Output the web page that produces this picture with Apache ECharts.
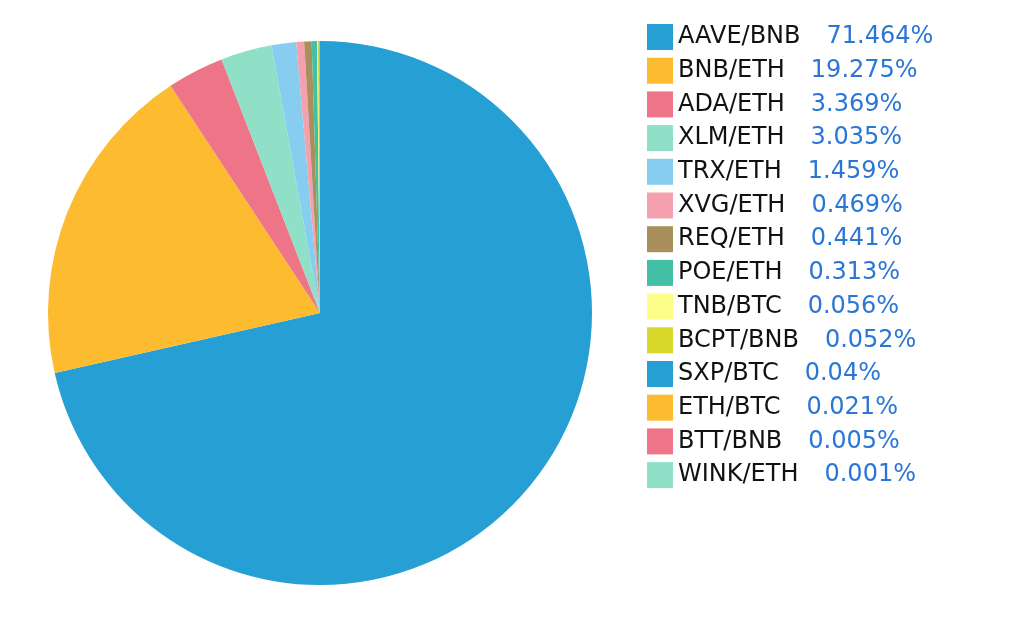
<!DOCTYPE html>
<html>
<head>
<meta charset="utf-8">
<script src="https://cdn.jsdelivr.net/npm/echarts@6/dist/echarts.min.js"></script>
<style>html,body{margin:0;background:#fff}#c{width:1024px;height:632px}</style>
</head>
<body>
<div id="c"></div>
<script>
const names = ['AAVE/BNB', 'BNB/ETH', 'ADA/ETH', 'XLM/ETH', 'TRX/ETH', 'XVG/ETH', 'REQ/ETH', 'POE/ETH', 'TNB/BTC', 'BCPT/BNB', 'SXP/BTC', 'ETH/BTC', 'BTT/BNB', 'WINK/ETH']
const values = [71.464, 19.275, 3.369, 3.035, 1.459, 0.469, 0.441, 0.313, 0.056, 0.052, 0.04, 0.021, 0.005, 0.001]
const colors = ['#26a0d4', '#fdbb2f', '#ee7488', '#8fe0c6', '#87cdf0', '#f4a0ae', '#a88f5b', '#43bfa5', '#fdfd8a', '#d8d82a']

const chart = echarts.init(document.getElementById('c'))
chart.setOption({
    color: colors,
    animation: false,
    legend: {
        orient: 'vertical',
        left: 642,
        top: 19,
        itemWidth: 26,
        itemHeight: 26,
        itemGap: 7.7,
        icon: 'rect',
        formatter: name => {
            const v = values[names.indexOf(name)]
            return `{n|${name}}{p|${v}%}`
        },
        textStyle: {
            rich: {
                n: {fontFamily: 'DejaVu Sans', fontSize: 24, color: '#111'},
                p: {fontFamily: 'DejaVu Sans', fontSize: 24, color: '#2a76d6', padding: [0, 0, 0, 26]}
            }
        }
    },
    series: [{
        type: 'pie',
        center: [320, 313],
        radius: 272,
        startAngle: 90,
        clockwise: true,
        label: {show: false},
        labelLine: {show: false},
        itemStyle: {borderWidth: 0},
        data: names.map((n, i) => ({name: n, value: values[i]}))
    }]
})
</script>
</body>
</html>
